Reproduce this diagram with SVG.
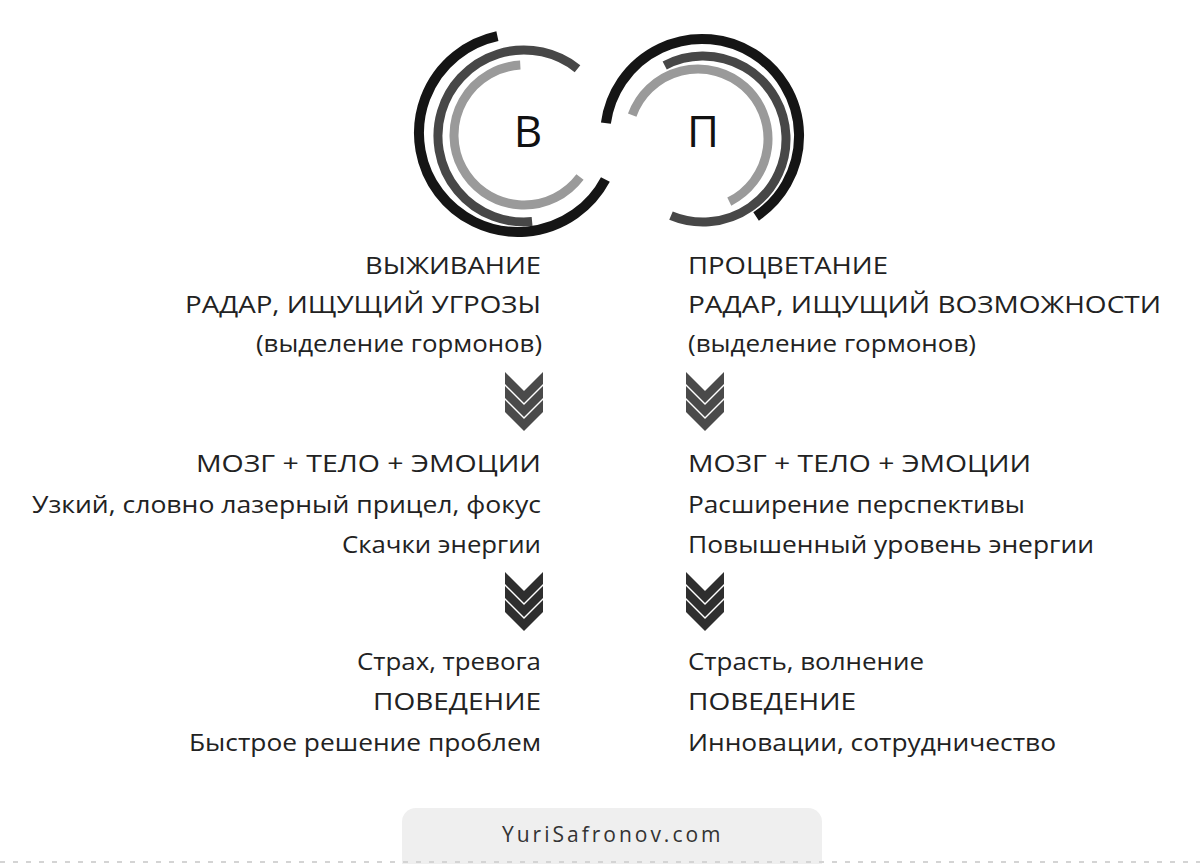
<svg xmlns="http://www.w3.org/2000/svg" width="1200" height="864" viewBox="0 0 1200 864">
<style>
.t{font-family:"Open Sans","Noto Sans","DejaVu Sans",sans-serif;font-size:24px;fill:#222}
.l{text-anchor:end}
.r{text-anchor:start}
.big{font-family:"Open Sans","Noto Sans",sans-serif;font-size:44px;fill:#111;text-anchor:middle}
.a{fill:none;stroke-linecap:butt}
.k{stroke:#151515;stroke-width:10}
.d{stroke:#474747;stroke-width:9}
.g{stroke:#9a9a9a;stroke-width:9}
.wm{font-family:"Open Sans","Noto Sans",sans-serif;font-size:21px;fill:#333;letter-spacing:2.5px}
</style>
<defs>
<g id="chev1">
<polygon points="0,0 19,19 38,0 38,12 19,31 0,12" fill="#4a4a4a"/>
<polygon points="0,14 19,33 38,14 38,26 19,45 0,26" fill="#4a4a4a"/>
<polygon points="0,28 19,47 38,28 38,40 19,59 0,40" fill="#4a4a4a"/>
</g>
<g id="chev2">
<polygon points="0,0 19,19 38,0 38,12 19,31 0,12" fill="#2e2e2e"/>
<polygon points="0,14 19,33 38,14 38,26 19,45 0,26" fill="#2e2e2e"/>
<polygon points="0,28 19,47 38,28 38,40 19,59 0,40" fill="#2e2e2e"/>
</g>
</defs>
<rect width="1200" height="864" fill="#fff"/>
<g id="node-v">
<path class="a k" d="M497.4,36.2 A99,99 0 1 0 605.4,179.5"/>
<path class="a d" d="M577.5,68.7 A86,86 0 1 0 532.1,221.6"/>
<path class="a g" d="M520.3,65.1 A70,70 0 1 0 580,177"/>
<text class="big" x="528" y="147">В</text>
</g>
<g id="node-p">
<path class="a k" d="M605.9,123.2 A97,97 0 1 1 756.1,216.5"/>
<path class="a d" d="M664.7,65.4 A83,83 0 1 1 671,215.6"/>
<path class="a g" d="M632.2,115.1 A70,70 0 1 1 729.3,201.6"/>
<text class="big" x="703" y="147">П</text>
</g>
<g id="left-top">
<text class="t" x="365" y="274" textLength="176" lengthAdjust="spacingAndGlyphs">ВЫЖИВАНИЕ</text>
<text class="t" x="185" y="313" textLength="356" lengthAdjust="spacingAndGlyphs">РАДАР, ИЩУЩИЙ УГРОЗЫ</text>
<text class="t" x="256" y="352" textLength="286" lengthAdjust="spacingAndGlyphs">(выделение гормонов)</text>
</g>
<g id="right-top">
<text class="t" x="688" y="274" textLength="200" lengthAdjust="spacingAndGlyphs">ПРОЦВЕТАНИЕ</text>
<text class="t" x="688" y="313" textLength="473" lengthAdjust="spacingAndGlyphs">РАДАР, ИЩУЩИЙ ВОЗМОЖНОСТИ</text>
<text class="t" x="688" y="352" textLength="288" lengthAdjust="spacingAndGlyphs">(выделение гормонов)</text>
</g>
<g id="left-mid">
<text class="t" x="196" y="472" textLength="345" lengthAdjust="spacingAndGlyphs">МОЗГ + ТЕЛО + ЭМОЦИИ</text>
<text class="t" x="32" y="513" textLength="509" lengthAdjust="spacingAndGlyphs">Узкий, словно лазерный прицел, фокус</text>
<text class="t" x="342" y="553" textLength="199" lengthAdjust="spacingAndGlyphs">Скачки энергии</text>
</g>
<g id="right-mid">
<text class="t" x="688" y="472" textLength="343" lengthAdjust="spacingAndGlyphs">МОЗГ + ТЕЛО + ЭМОЦИИ</text>
<text class="t" x="688" y="513" textLength="337" lengthAdjust="spacingAndGlyphs">Расширение перспективы</text>
<text class="t" x="688" y="553" textLength="406" lengthAdjust="spacingAndGlyphs">Повышенный уровень энергии</text>
</g>
<g id="left-bottom">
<text class="t" x="357" y="670" textLength="184" lengthAdjust="spacingAndGlyphs">Страх, тревога</text>
<text class="t" x="373" y="710" textLength="168" lengthAdjust="spacingAndGlyphs">ПОВЕДЕНИЕ</text>
<text class="t" x="189" y="751" textLength="352" lengthAdjust="spacingAndGlyphs">Быстрое решение проблем</text>
</g>
<g id="right-bottom">
<text class="t" x="688" y="670" textLength="236" lengthAdjust="spacingAndGlyphs">Страсть, волнение</text>
<text class="t" x="688" y="710" textLength="168" lengthAdjust="spacingAndGlyphs">ПОВЕДЕНИЕ</text>
<text class="t" x="688" y="751" textLength="368" lengthAdjust="spacingAndGlyphs">Инновации, сотрудничество</text>
</g>
<g id="connectors">
<use href="#chev1" x="505" y="372"/>
<use href="#chev1" x="686" y="372"/>
<use href="#chev2" x="505" y="572"/>
<use href="#chev2" x="686" y="572"/>
</g>
<g id="watermark">
<rect x="402" y="808" width="420" height="80" rx="14" fill="#efefef"/>
<text class="wm" x="502" y="842" textLength="221" lengthAdjust="spacing">YuriSafronov.com</text>
</g>
<line x1="0" y1="862" x2="1200" y2="862" stroke="#d4d4d4" stroke-width="2" stroke-dasharray="5 8"/>
</svg>
